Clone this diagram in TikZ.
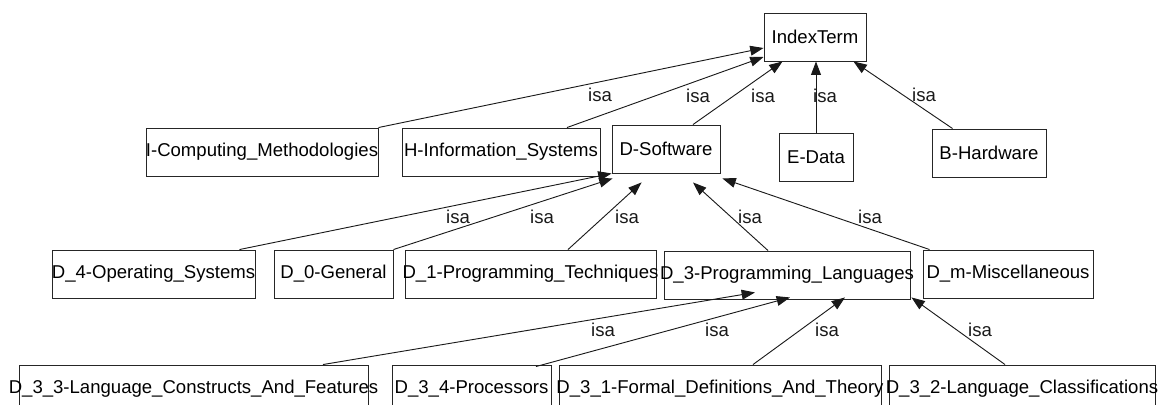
\documentclass[tikz,border=0pt]{standalone}
\usepackage{fontspec}
\setmainfont{Liberation Sans}
\usetikzlibrary{arrows.meta,calc}
\tikzset{term/.style = {draw = black!85, line width = 0.65pt, minimum height = 48 * 0.025cm, inner sep = 0pt}}
\tikzset{isa/.style = {draw = black!90, line width = 0.65pt, -{Triangle[length = 9.5pt, width = 7pt]}}}
\tikzset{isalabel/.style = {inner sep = 0pt, text = black!90}}
\newcommand{\termtext}[1]{\makebox[0pt]{#1}}

\begin{document}
\begin{tikzpicture}[x = 0.025cm, y = -0.025cm, font = \fontsize{13.2}{15}\selectfont]

  \def\px{0.025cm}

  \useasboundingbox (0 , 0) rectangle (1159 , 405);

  \node [term, minimum width = 102 * \px] (idx) at (815 , 37) {\termtext{IndexTerm}};

  \node [term, minimum width = 232 * \px] (icm) at (262 , 152) {\termtext{I-Computing\_Methodologies}};
  \node [term, minimum width = 198 * \px] (his) at (501 , 152) {\termtext{H-Information\_Systems}};
  \node [term, minimum width = 108 * \px] (dsw) at (666 , 149) {\termtext{D-Software}};
  \node [term, minimum width = 74 * \px] (eda) at (816 , 157) {\termtext{E-Data}};
  \node [term, minimum width = 114 * \px] (bhw) at (989 , 153) {\termtext{B-Hardware}};

  \node [term, minimum width = 203 * \px] (d4) at (153.5 , 274) {\termtext{D\_4-Operating\_Systems}};
  \node [term, minimum width = 119 * \px] (d0) at (333.5 , 274) {\termtext{D\_0-General}};
  \node [term, minimum width = 251 * \px] (d1) at (530.5 , 274) {\termtext{D\_1-Programming\_Techniques}};
  \node [term, minimum width = 246 * \px] (d3) at (787 , 275) {\termtext{D\_3-Programming\_Languages}};
  \node [term, minimum width = 170 * \px] (dm) at (1008 , 274) {\termtext{D\_m-Miscellaneous}};

  \node [term, minimum width = 349 * \px] (d33) at (193.5 , 389) {\termtext{D\_3\_3-Language\_Constructs\_And\_Features}};
  \node [term, minimum width = 159 * \px] (d34) at (471.5 , 389) {\termtext{D\_3\_4-Processors}};
  \node [term, minimum width = 322 * \px] (d31) at (720 , 389) {\termtext{D\_3\_1-Formal\_Definitions\_And\_Theory}};
  \node [term, minimum width = 266 * \px] (d32) at (1022 , 389) {\termtext{D\_3\_2-Language\_Classifications}};

  \draw [isa] (icm.north east) -- ($ (idx.west) + (0 , 11) $);
  \draw [isa] ($ (his.north) + (66 , 0) $) -- ($ (idx.west) + (0 , 20) $);
  \draw [isa] ($ (dsw.north) + (27 , 0) $) -- ($ (idx.south west) + (19 , 0) $);
  \draw [isa] (eda.north) -- (eda.north |- idx.south);
  \draw [isa] ($ (bhw.north west) + (21 , 0) $) -- ($ (idx.south east) + (-13 , 0) $);

  \node [isalabel] (lcm) at (600 , 95) {isa};
  \node [isalabel] (lis) at (698 , 96) {isa};
  \node [isalabel] (lsw) at (763 , 96) {isa};
  \node [isalabel] (lda) at (825 , 96) {isa};
  \node [isalabel] (lhw) at (924 , 95) {isa};

  \draw [isa] ($ (d4.north) + (86 , 0) $) -- (dsw.south west);
  \draw [isa] (d0.north east) -- ($ (dsw.south west) + (1 , 5) $);
  \draw [isa] ($ (d1.north) + (37.5 , 0) $) -- ($ (dsw.south west) + (30 , 9) $);
  \draw [isa] ($ (d3.north) + (-19 , 0) $) -- ($ (dsw.south) + (27 , 9) $);
  \draw [isa] ($ (dm.north west) + (7 , 0) $) -- ($ (dsw.south east) + (2 , 5) $);

  \node [isalabel] (l4) at (458 , 217) {isa};
  \node [isalabel] (l0) at (542 , 217) {isa};
  \node [isalabel] (l1) at (627 , 217) {isa};
  \node [isalabel] (l3) at (750 , 217) {isa};
  \node [isalabel] (lm) at (870 , 217) {isa};

  \draw [isa] ($ (d33.north) + (129.5 , 0) $) -- ($ (d3.south) + (-32 , -7) $);
  \draw [isa] ($ (d34.north) + (64.5 , 2) $) -- ($ (d3.south) + (3 , -2) $);
  \draw [isa] ($ (d31.north) + (33 , 0) $) -- ($ (d3.south) + (58 , -2) $);
  \draw [isa] ($ (d32.north) + (-17 , 0) $) -- ($ (d3.south east) + (1 , -2) $);

  \node [isalabel] (l33) at (603 , 330) {isa};
  \node [isalabel] (l34) at (717 , 330) {isa};
  \node [isalabel] (l31) at (827 , 330) {isa};
  \node [isalabel] (l32) at (980 , 330) {isa};

\end{tikzpicture}
\end{document}
